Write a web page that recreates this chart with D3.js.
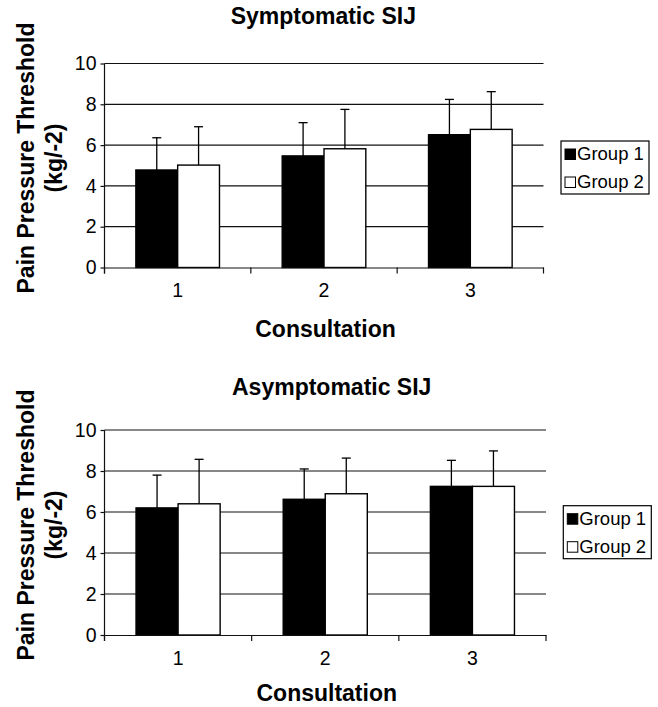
<!DOCTYPE html>
<html>
<head>
<meta charset="utf-8">
<script src="https://cdn.jsdelivr.net/npm/d3@7"></script>
<style>
  body { margin: 0; background: #fff; }
  text { font-family: "Liberation Sans", Arial, sans-serif; fill: #000; }
</style>
</head>
<body>
<div id="chart"></div>
<script>
// data
var consultations = ["1", "2", "3"],
    groups = ["Group 1", "Group 2"],
    yTicks = [0, 2, 4, 6, 8, 10];

var sympG1 = [4.78, 5.47, 6.51],
    sympG2 = [5.02, 5.82, 6.77],
    sympG1sd = [1.58, 1.63, 1.73],
    sympG2sd = [1.88, 1.93, 1.85];

var asympG1 = [6.20, 6.62, 7.25],
    asympG2 = [6.40, 6.89, 7.25],
    asympG1sd = [1.60, 1.48, 1.27],
    asympG2sd = [2.17, 1.74, 1.73];

var W = 658, H = 707;

var svg = d3.select("#chart").append("svg")
    .attr("width", W).attr("height", H);

svg.append("rect").attr("width", W).attr("height", H).attr("fill", "#fff");

drawPanel({
  title: "Symptomatic SIJ", titleX: 323.3, titleY: 23.8,
  left: 104.5, right: 543.5, top: 63.5, bottom: 267.5, xlabY: 336.5,
  means: [sympG1, sympG2], sds: [sympG1sd, sympG2sd],
  legX: 561, legY: 141, ylabY: 158
});

drawPanel({
  title: "Asymptomatic SIJ", titleX: 331.7, titleY: 395,
  left: 104.5, right: 546, top: 430, bottom: 635, xlabY: 701,
  means: [asympG1, asympG2], sds: [asympG1sd, asympG2sd],
  legX: 563.3, legY: 505.7, ylabY: 525
});

function drawPanel(p) {
  var g = svg.append("g");
  var fills = ["#000", "#fff"];

  var y = d3.scaleLinear().domain([0, 10]).range([p.bottom, p.top]);
  var x0 = d3.scaleBand().domain(consultations).range([p.left, p.right]);
  var x1 = d3.scaleBand().domain(groups).range([0, x0.bandwidth()])
      .paddingInner(0).paddingOuter(0.75);

  // title
  g.append("text")
      .attr("x", p.titleX).attr("y", p.titleY)
      .attr("text-anchor", "middle")
      .style("font-size", "23px").style("font-weight", "bold")
      .text(p.title);

  // gridlines
  g.selectAll("line.grid")
      .data(yTicks.filter(function(d) { return d > 0; }))
    .enter().append("line")
      .attr("class", "grid")
      .attr("x1", p.left).attr("x2", p.right)
      .attr("y1", function(d) { return y(d); })
      .attr("y2", function(d) { return y(d); })
      .attr("stroke", "#111").attr("stroke-width", 1.2);

  // bars
  var rows = [];
  consultations.forEach(function(c, i) {
    groups.forEach(function(grp, k) {
      rows.push({c: c, g: grp, k: k, m: p.means[k][i], sd: p.sds[k][i]});
    });
  });

  g.selectAll("rect.bar")
      .data(rows)
    .enter().append("rect")
      .attr("class", "bar")
      .attr("x", function(d) { return x0(d.c) + x1(d.g); })
      .attr("y", function(d) { return y(d.m); })
      .attr("width", x1.bandwidth())
      .attr("height", function(d) { return y(0) - y(d.m); })
      .attr("fill", function(d) { return fills[d.k]; })
      .attr("stroke", "#000").attr("stroke-width", 1.4);

  // error bars (upper only)
  var eb = g.selectAll("g.err")
      .data(rows)
    .enter().append("g")
      .attr("class", "err")
      .attr("transform", function(d) {
        return "translate(" + (x0(d.c) + x1(d.g) + x1.bandwidth() / 2) + ",0)";
      });
  eb.append("line")
      .attr("y1", function(d) { return y(d.m); })
      .attr("y2", function(d) { return y(d.m + d.sd); })
      .attr("stroke", "#000").attr("stroke-width", 1.3);
  eb.append("line")
      .attr("x1", -4.5).attr("x2", 4.5)
      .attr("y1", function(d) { return y(d.m + d.sd); })
      .attr("y2", function(d) { return y(d.m + d.sd); })
      .attr("stroke", "#000").attr("stroke-width", 1.3);

  // y axis
  var ya = g.append("g")
      .attr("transform", "translate(" + p.left + ",0)")
      .call(d3.axisLeft(y).tickValues(yTicks).tickSize(4).tickPadding(4));
  ya.select(".domain").attr("stroke", "#111").attr("stroke-width", 1.2)
      .attr("d", "M0," + p.top + "V" + (p.bottom + 6));
  ya.selectAll(".tick line").attr("stroke", "#111").attr("stroke-width", 1.2);
  ya.selectAll(".tick text")
      .style("font-size", "19.5px")
      .style("font-family", '"Liberation Sans", Arial, sans-serif')
      .attr("fill", "#000");

  // x axis: labels at category centres, ticks at boundaries
  var xa = g.append("g")
      .attr("transform", "translate(0," + p.bottom + ")")
      .call(d3.axisBottom(x0).tickSize(0).tickPadding(16));
  xa.select(".domain").attr("stroke", "#111").attr("stroke-width", 1.2);
  xa.selectAll(".tick text")
      .style("font-size", "19.5px")
      .style("font-family", '"Liberation Sans", Arial, sans-serif')
      .attr("fill", "#000");
  var bounds = consultations.map(function(c) { return x0(c); })
      .concat([x0.range()[1]]);
  g.selectAll("line.xtick")
      .data(bounds)
    .enter().append("line")
      .attr("class", "xtick")
      .attr("x1", function(d) { return d; }).attr("x2", function(d) { return d; })
      .attr("y1", p.bottom).attr("y2", p.bottom + 6)
      .attr("stroke", "#111").attr("stroke-width", 1.2);

  g.append("text")
      .attr("x", (p.left + p.right) / 2 + 1.5).attr("y", p.xlabY)
      .attr("text-anchor", "middle")
      .style("font-size", "23px").style("font-weight", "bold")
      .text("Consultation");

  // y label
  var yl = g.append("text")
      .attr("transform", "translate(33.5," + p.ylabY + ") rotate(-90)")
      .attr("text-anchor", "middle")
      .style("font-size", "23px").style("font-weight", "bold");
  yl.append("tspan").attr("x", 0).attr("y", 0).text("Pain Pressure Threshold");
  yl.append("tspan").attr("x", 0).attr("y", 28.5).text("(kg/-2)");

  // legend
  var leg = g.append("g").attr("transform", "translate(" + p.legX + "," + p.legY + ")");
  leg.append("rect")
      .attr("width", 88).attr("height", 53)
      .attr("fill", "#fff").attr("stroke", "#000").attr("stroke-width", 1.2);
  var li = leg.selectAll("g.item")
      .data(groups)
    .enter().append("g")
      .attr("class", "item")
      .attr("transform", function(d, i) { return "translate(0," + (i * 28) + ")"; });
  li.append("rect")
      .attr("x", 4).attr("y", 8).attr("width", 10.5).attr("height", 10.5)
      .attr("fill", function(d, i) { return fills[i]; })
      .attr("stroke", "#000").attr("stroke-width", 1);
  li.append("text")
      .attr("x", 16).attr("y", 19)
      .style("font-size", "18.5px")
      .text(function(d) { return d; });
}
</script>
</body>
</html>
